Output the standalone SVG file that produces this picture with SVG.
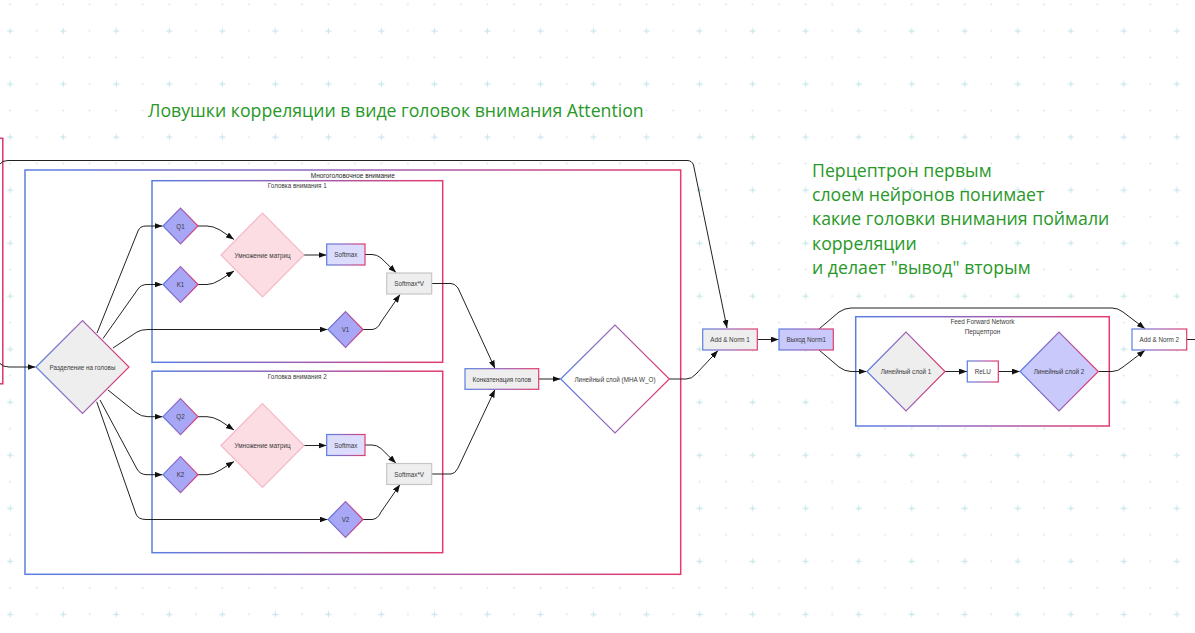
<svg xmlns="http://www.w3.org/2000/svg" width="1195" height="633" viewBox="0 0 1195 633">
<style>
.t{font-family:"Liberation Sans",Arial,sans-serif;font-size:6.3px;fill:#3a3a3a;text-anchor:middle;dominant-baseline:central}
.tb{fill:#1e1e1e;font-size:6.5px}
.note{font-family:"Open Sans","Noto Sans",sans-serif;font-size:17.7px;fill:#289828}
.box{fill:#fff;stroke:url(#g);stroke-width:1.5}
.qkv{fill:#a7a7f6;stroke:url(#g);stroke-width:1.2}
.mul{fill:#fcdde3;stroke:#f5b9c6;stroke-width:1.2}
.sm{fill:#dcdcfd;stroke:url(#g);stroke-width:1.2}
.sv{fill:#eeeeee;stroke:#c6c6c6;stroke-width:1.2}
.gr{fill:#eeeeee;stroke:url(#g);stroke-width:1.2}
.lav{fill:#c9c9fb;stroke:url(#g);stroke-width:1.2}
.wh{fill:#ffffff;stroke:url(#g);stroke-width:1.2}
.c{fill:none;stroke:#222;stroke-width:1;marker-end:url(#a)}
.cn{fill:none;stroke:#222;stroke-width:1}
</style>
<defs>
<linearGradient id="g" x1="0" y1="0" x2="1" y2="0">
<stop offset="0" stop-color="#5a7fe0"/>
<stop offset="0.5" stop-color="#9a62b8"/>
<stop offset="1" stop-color="#e43a6c"/>
</linearGradient>
<pattern id="bg" patternUnits="userSpaceOnUse" width="53.03" height="53.03">
<path d="M7.2,31 H13.2 M10.2,28 V34" stroke="#c6e6ea" stroke-width="1.1"/>
<circle cx="36.7" cy="31" r="1" fill="#d7e5ea"/>
<circle cx="10.2" cy="4.5" r="1" fill="#d7e5ea"/>
<circle cx="36.7" cy="4.5" r="1" fill="#d7e5ea"/>
</pattern>
<marker id="a" markerUnits="userSpaceOnUse" markerWidth="8" markerHeight="6" viewBox="0 0 8 6" refX="8" refY="3" orient="auto">
<path d="M0,0 L8,3 L0,6 z" fill="#111"/>
</marker>
</defs>
<rect width="1195" height="633" fill="#ffffff"/>
<rect width="1195" height="633" fill="url(#bg)"/>

<text class="note" x="148" y="117">Ловушки корреляции в виде головок внимания Attention</text>
<text class="note" x="812" y="177">Перцептрон первым</text>
<text class="note" x="812" y="201.2">слоем нейронов понимает</text>
<text class="note" x="812" y="225.4">какие головки внимания поймали</text>
<text class="note" x="812" y="249.6">корреляции</text>
<text class="note" x="812" y="273.8">и делает "вывод" вторым</text>

<g id="input-box"><rect x="-100" y="138.3" width="102.8" height="245.5" fill="#fff" stroke="#d9386c" stroke-width="1.5"/></g>

<g id="mha"><rect class="box" x="25" y="170" width="655.7" height="404.3"/>
<text class="t tb" x="352.8" y="175.3">Многоголовочное внимание</text></g>
<g id="head1"><rect class="box" x="152" y="180.7" width="290.7" height="181.6"/>
<text class="t" x="297.3" y="185.5">Головка внимания 1</text></g>
<g id="head2"><rect class="box" x="152" y="371.2" width="290.7" height="181.5"/>
<text class="t" x="297.3" y="376">Головка внимания 2</text></g>
<g id="ffn"><rect class="box" x="855.7" y="316.7" width="253.6" height="109.3"/>
<text class="t" x="982.5" y="321.8">Feed Forward Network</text>
<text class="t" x="982.5" y="331.5">Перцептрон</text></g>

<g id="connectors">
<path class="c" d="M0,363.5 Q3,367 9,367 L35.5,367"/>
<path class="c" d="M0,164 Q2,160.5 8,160.5 L687,160.5 Q692,160.5 693.5,165 L727,328"/>
<path class="c" d="M97,333 L138,231 Q140,226 146,226 L162.5,226"/>
<path class="c" d="M103,338.5 L138,289 Q141,284.5 147,284.5 L162.5,284.5"/>
<path class="c" d="M113,348 L137,332 Q141,329.5 148,329.5 L327.5,329.5"/>
<path class="c" d="M108,390 L136,412.5 Q141,416.7 148,416.7 L162.5,416.7"/>
<path class="c" d="M100,400 L137,469 Q140,474.7 147,474.7 L162.5,474.7"/>
<path class="c" d="M96.7,401.7 L136,514 Q138,519.5 146,519.5 L327.5,519.5"/>
<path class="c" d="M198,226 L207,226 Q213,226 220,230 L234,239.5"/>
<path class="c" d="M198,284.5 L207,284.5 Q213,284.5 220,280 L234,271"/>
<path class="c" d="M304,255 L326.5,255"/>
<path class="c" d="M365,254.5 L372,254.5 Q377,254.5 381,258 L396,272.5"/>
<path class="c" d="M363,329.5 L372,329.5 Q378,329 381,322 L400,294.5"/>
<path class="c" d="M198,416.7 L207,416.7 Q213,416.7 220,420.7 L234,430"/>
<path class="c" d="M198,474.7 L207,474.7 Q213,474.7 220,470.2 L234,461.5"/>
<path class="c" d="M304,445.5 L326.5,445.5"/>
<path class="c" d="M365,445 L372,445 Q377,445 381,448.5 L396,463.3"/>
<path class="c" d="M363,519.5 L372,519.5 Q378,519 381,512 L400,484.5"/>
<path class="c" d="M431.7,283.5 L451,283.5 Q455,283.5 458,288 L495,368.5"/>
<path class="c" d="M431.7,474 L451,474 Q455,474 458,468 L495,389.5"/>
<path class="c" d="M538.7,379 L560.5,379"/>
<path class="c" d="M669.3,379 L686,379 Q692,379 696,374 L718,350.5"/>
<path class="c" d="M757.3,339.5 L778.7,339.5"/>
<path class="c" d="M819,329 L839,312 Q845,308 851,308 L1112,308 Q1118,308 1123,312 L1145,328.7"/>
<path class="c" d="M819,350 L839,367 Q845,371.5 851,371.5 L866.5,371.5"/>
<path class="c" d="M945,371.5 L967,371.5"/>
<path class="c" d="M998.3,371.5 L1019.7,371.5"/>
<path class="c" d="M1098.3,371.5 L1112,371.5 Q1118,371.5 1123,367 L1145,350.3"/>
<path class="cn" d="M1186.7,339.5 L1196,339.5"/>
</g>

<g id="split"><polygon class="gr" points="36,367 82.5,320.5 129,367 82.5,413.5"/>
<text class="t" x="82.5" y="367">Разделение на головы</text></g>

<g id="q1"><polygon class="qkv" points="163,226 180.5,208 198,226 180.5,244"/><text class="t" x="180.5" y="226">Q1</text></g>
<g id="k1"><polygon class="qkv" points="163,284.5 180.5,266.5 198,284.5 180.5,302.5"/><text class="t" x="180.5" y="284.5">K1</text></g>
<g id="v1"><polygon class="qkv" points="328,329.5 345.5,311.5 363,329.5 345.5,347.5"/><text class="t" x="345.5" y="329.5">V1</text></g>
<g id="mul1"><polygon class="mul" points="221,255 262.5,213 304,255 262.5,297"/><text class="t" x="262.5" y="255">Умножение матриц</text></g>
<g id="softmax1"><rect class="sm" x="326.7" y="244" width="38.3" height="21"/><text class="t" x="345.8" y="254.5">Softmax</text></g>
<g id="softmaxv1"><rect class="sv" x="386.7" y="273" width="45" height="21"/><text class="t" x="409.2" y="283.5">Softmax*V</text></g>

<g id="q2"><polygon class="qkv" points="163,416.7 180.5,398.7 198,416.7 180.5,434.7"/><text class="t" x="180.5" y="416.7">Q2</text></g>
<g id="k2"><polygon class="qkv" points="163,474.7 180.5,456.7 198,474.7 180.5,492.7"/><text class="t" x="180.5" y="474.7">K2</text></g>
<g id="v2"><polygon class="qkv" points="328,519.5 345.5,501.5 363,519.5 345.5,537.5"/><text class="t" x="345.5" y="519.5">V2</text></g>
<g id="mul2"><polygon class="mul" points="221,445.5 262.5,403.5 304,445.5 262.5,487.5"/><text class="t" x="262.5" y="445.5">Умножение матриц</text></g>
<g id="softmax2"><rect class="sm" x="326.7" y="434.5" width="38.3" height="21"/><text class="t" x="345.8" y="445">Softmax</text></g>
<g id="softmaxv2"><rect class="sv" x="386.7" y="463.5" width="45" height="21"/><text class="t" x="409.2" y="474">Softmax*V</text></g>

<g id="concat"><rect class="gr" x="465" y="368.7" width="73.7" height="20.6"/><text class="t" x="501.8" y="379">Конкатенация голов</text></g>
<g id="linear-mha"><polygon class="wh" points="560.7,379 615,325 669.3,379 615,433"/><text class="t" x="615" y="379">Линейный слой (MHA W_O)</text></g>
<g id="addnorm1"><rect class="gr" x="702.7" y="329" width="54.6" height="21"/><text class="t" x="730" y="339.5">Add &amp; Norm 1</text></g>
<g id="out-norm1"><rect class="lav" x="779" y="329" width="54.3" height="21"/><text class="t" x="806.2" y="339.5">Выход Norm1</text></g>
<g id="lin1"><polygon class="gr" points="867,371.5 906,332 945,371.5 906,411"/><text class="t" x="906" y="371.5">Линейный слой 1</text></g>
<g id="relu"><rect class="wh" x="967.3" y="361" width="31" height="21"/><text class="t" x="982.8" y="371.5">ReLU</text></g>
<g id="lin2"><polygon class="lav" points="1020,371.5 1059,332 1098.3,371.5 1059,411"/><text class="t" x="1059" y="371.5">Линейный слой 2</text></g>
<g id="addnorm2"><rect class="wh" x="1132" y="329" width="54.7" height="21"/><text class="t" x="1159.3" y="339.5">Add &amp; Norm 2</text></g>
</svg>
